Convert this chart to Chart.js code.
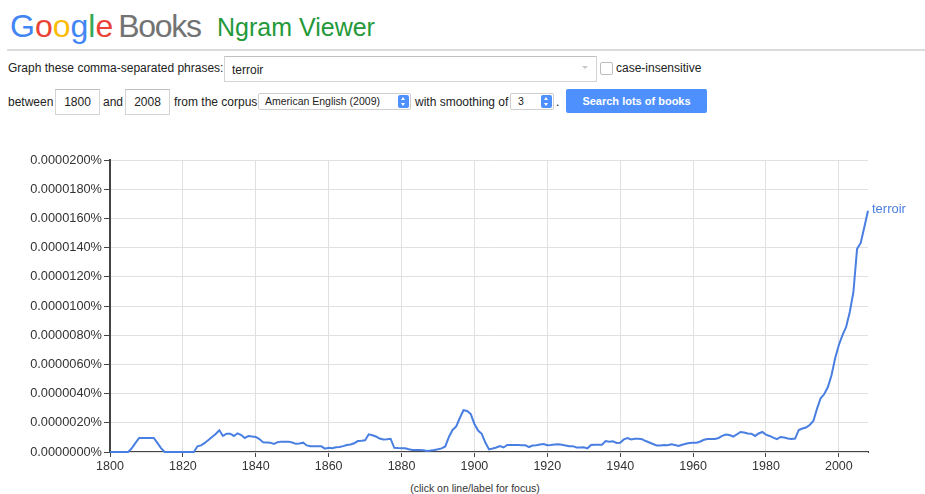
<!DOCTYPE html>
<html>
<head>
<meta charset="utf-8">
<title>Google Books Ngram Viewer</title>
<script src="https://cdn.jsdelivr.net/npm/chart.js@4.4.1/dist/chart.umd.min.js"></script>
<style>
  body { margin: 0; width: 925px; height: 494px; background: #fff; font-family: Arial, "Liberation Sans", sans-serif; color: #222; position: relative; overflow: hidden; }
  .abs { position: absolute; }
  .logo { top: 6px; left: 10px; font-size: 32px; white-space: nowrap; line-height: 40px; }
  .books { color: #737373; letter-spacing: -1.3px; margin-left: 5px; }
  .ngram { top: 10px; left: 217px; font-size: 25px; color: #23993a; line-height: 34px; white-space: nowrap; }
  .rule { top: 49px; left: 7px; width: 918px; height: 2px; background: #dcdcdc; }
  .lbl { font-size: 12px; white-space: nowrap; line-height: 14px; }
  .box { border: 1px solid #d4d4d4; border-top-color: #c0c0c0; box-sizing: border-box; background: #fff; font-size: 12px; }
  .sel { border: 1px solid #cfcfcf; border-radius: 2px; box-sizing: border-box; background: #fff; font-size: 10.5px; line-height: 15px; }
  .arrow { position: absolute; top: 1px; right: 1px; width: 11px; height: 13px; background: #4d90fe; border-radius: 2px; }
  .arrow::before, .arrow::after { content: ''; position: absolute; left: 3px; width: 0; height: 0; border-left: 2.5px solid transparent; border-right: 2.5px solid transparent; }
  .arrow::before { top: 2px; border-bottom: 3px solid #fff; }
  .arrow::after { top: 8px; border-top: 3px solid #fff; }
  .btn { top: 89px; left: 566px; width: 141px; height: 24px; background: #4d90fe; border-radius: 2px; color: #fff; font-size: 11px; font-weight: bold; line-height: 24px; text-align: center; }
  #wrap { position: absolute; left: 0; top: 145px; width: 925px; height: 330px; }
  .focus { top: 482px; left: 0; width: 950px; text-align: center; font-size: 10.5px; color: #333; }
</style>
</head>
<body>
<div class="abs logo"><span style="color:#4285f4">G</span><span style="color:#ea4335">o</span><span style="color:#fbbc05">o</span><span style="color:#4285f4">g</span><span style="color:#34a853">l</span><span style="color:#ea4335">e</span><span class="books">Books</span></div>
<div class="abs ngram">Ngram Viewer</div>
<div class="abs rule"></div>

<div class="abs lbl" style="top:61px;left:8px">Graph these comma-separated phrases:</div>
<div class="abs box" style="top:56px;left:224px;width:373px;height:26px;padding:6px 0 0 7px">terroir</div>
<div class="abs" style="top:66px;left:582px;width:0;height:0;border-left:3px solid transparent;border-right:3px solid transparent;border-top:3px solid #c8c8c8"></div>
<div class="abs" style="top:62px;left:600px;width:13px;height:13px;border:1px solid #bdbdbd;border-radius:2px;box-sizing:border-box"></div>
<div class="abs lbl" style="top:61px;left:616px">case-insensitive</div>

<div class="abs lbl" style="top:95px;left:8px">between</div>
<div class="abs box" style="top:89px;left:55px;width:45px;height:26px;line-height:24px;text-align:center">1800</div>
<div class="abs lbl" style="top:95px;left:103px">and</div>
<div class="abs box" style="top:89px;left:125px;width:45px;height:26px;line-height:24px;text-align:center">2008</div>
<div class="abs lbl" style="top:95px;left:174px">from the corpus</div>
<div class="abs sel" style="top:93px;left:258px;width:153px;height:17px;padding-left:6px">American English (2009)<div class="arrow"></div></div>
<div class="abs lbl" style="top:95px;left:415px">with smoothing of</div>
<div class="abs sel" style="top:93px;left:510px;width:44px;height:17px;padding-left:7px">3<div class="arrow"></div></div>
<div class="abs lbl" style="top:95px;left:556px">.</div>
<div class="abs btn">Search lots of books</div>

<div id="wrap"><canvas id="ngram" width="925" height="330"></canvas></div>
<div class="abs focus">(click on line/label for focus)</div>

<script>
// values are in units of 1e-7 percent, one per year from firstYear
const firstYear = 1800;
const lastYear = 2008;
const phrase = 'terroir';
const terroir = [
  0, 0, 0, 0, 0, 0, 2.7, 6.2, 9.6, 9.6,
  9.6, 9.6, 9.6, 6.2, 2.7, 0, 0, 0, 0, 0,
  0, 0, 0, 0, 3.9, 4.5, 6.2, 8.2, 10.3, 12.3,
  14.9, 11.0, 12.5, 12.5, 11.0, 12.8, 11.6, 9.6, 11.0, 10.6,
  10.3, 8.9, 6.6, 6.5, 6.4, 5.5, 6.7, 7.1, 7.1, 7.1,
  6.5, 5.6, 5.8, 6.4, 4.5, 3.9, 3.9, 3.9, 3.9, 2.3,
  2.9, 2.6, 3.2, 3.4, 4.0, 4.8, 5.1, 6.0, 7.5, 7.7,
  8.0, 12.1, 11.5, 10.6, 9.2, 8.6, 8.8, 9.1, 2.9, 2.7,
  2.6, 2.5, 1.9, 1.4, 1.4, 1.4, 1.2, 0.7, 1.0, 1.4,
  1.9, 2.5, 3.8, 10.3, 15.1, 17.5, 23.3, 28.6, 28.1, 26.0,
  19.2, 14.7, 12.5, 6.5, 1.8, 2.4, 3.1, 4.1, 3.1, 4.8,
  4.8, 4.8, 4.8, 4.7, 4.6, 3.4, 4.5, 4.7, 5.1, 5.5,
  4.6, 4.8, 5.1, 5.3, 5.0, 4.5, 4.0, 4.0, 3.1, 3.1,
  3.2, 2.5, 4.8, 4.9, 5.0, 5.0, 7.5, 7.1, 7.3, 6.2,
  6.4, 8.6, 9.6, 8.6, 9.0, 9.0, 8.8, 7.5, 6.5, 5.5,
  4.5, 4.5, 4.8, 4.7, 5.3, 4.8, 4.1, 5.0, 5.7, 6.2,
  6.4, 6.4, 7.2, 8.4, 8.9, 8.9, 8.9, 9.6, 11.0, 12.0,
  11.6, 10.6, 12.0, 13.7, 13.4, 12.7, 12.5, 11.0, 12.7, 13.7,
  11.9, 11.0, 9.9, 8.8, 10.3, 9.9, 9.2, 8.9, 9.2, 15.1,
  16.1, 16.8, 18.5, 21.2, 29.5, 36.8, 39.7, 44.5, 52.7, 64.4,
  73.3, 80.1, 85.6, 95.9, 109.6, 139.1, 143.2, 154.1, 165.3
];
const yMax = 200;
const yStep = 20;
const xStep = 20;

const lineColor = '#4a7fe2';
const points = terroir.map((v, i) => ({ x: firstYear + i, y: v }));

const endLabel = {
  id: 'endLabel',
  afterDatasetsDraw(chart) {
    const meta = chart.getDatasetMeta(0);
    const last = meta.data[meta.data.length - 1];
    const ctx = chart.ctx;
    ctx.save();
    ctx.fillStyle = lineColor;
    ctx.font = '13px Arial, "Liberation Sans", sans-serif';
    ctx.textAlign = 'left';
    ctx.textBaseline = 'middle';
    ctx.fillText(phrase, last.x + 4, last.y - 1);
    ctx.restore();
  }
};

new Chart(document.getElementById('ngram'), {
  type: 'line',
  data: {
    datasets: [{
      label: phrase,
      data: points,
      borderColor: lineColor,
      borderWidth: 2,
      pointRadius: 0,
      tension: 0,
      fill: false,
      clip: false
    }]
  },
  options: {
    responsive: false,
    animation: false,
    layout: { padding: { top: 15, right: 57, left: 0, bottom: 0 } },
    plugins: { legend: { display: false }, tooltip: { enabled: false } },
    scales: {
      x: {
        type: 'linear',
        min: firstYear,
        max: lastYear,
        afterFit: s => { s.height = 23; },
        grid: { color: '#e0e0e0', tickColor: '#444', tickLength: 5 },
        border: { color: '#444', width: 2, z: -1 },
        ticks: {
          stepSize: xStep,
          includeBounds: false,
          padding: 2,
          color: '#333',
          font: { size: 12.5, family: 'Arial, "Liberation Sans", sans-serif' },
          callback: v => String(v)
        }
      },
      y: {
        min: 0,
        max: yMax,
        afterFit: s => { s.width = 110; },
        grid: { color: '#e0e0e0', tickColor: '#444', tickLength: 6 },
        border: { color: '#444', width: 2, z: -1 },
        ticks: {
          stepSize: yStep,
          padding: 2,
          color: '#333',
          font: { size: 12.8, family: 'Arial, "Liberation Sans", sans-serif' },
          callback: v => (v * 1e-7).toFixed(7) + '%'
        }
      }
    }
  },
  plugins: [endLabel]
});
</script>
</body>
</html>
